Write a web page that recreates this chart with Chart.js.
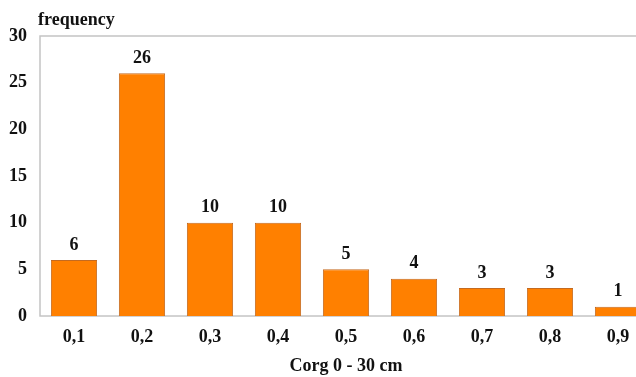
<!DOCTYPE html>
<html>
<head>
<meta charset="utf-8">
<script src="https://cdn.jsdelivr.net/npm/chart.js@4/dist/chart.umd.min.js"></script>
<style>
  html, body { margin: 0; padding: 0; background: #fff; overflow: hidden; }
  #wrap { width: 636px; height: 377px; overflow: hidden; }
</style>
</head>
<body>
<div id="wrap"><canvas id="histChart" width="652" height="377"></canvas></div>
<script>
let categories = ["0,1", "0,2", "0,3", "0,4", "0,5", "0,6", "0,7", "0,8", "0,9"];
let frequency = [6, 26, 10, 10, 5, 4, 3, 3, 1];
let yTicks = [0, 5, 10, 15, 20, 25, 30];

const fontFamily = '"Liberation Serif", "Times New Roman", serif';

// frame, "frequency" label and value labels above the bars
const extrasPlugin = {
    id: 'extras',
    beforeDatasetsDraw(chart) {
        const { ctx, chartArea } = chart;
        ctx.save();
        ctx.strokeStyle = '#c4c4c4';
        ctx.lineWidth = 1.5;
        ctx.strokeRect(chartArea.left, chartArea.top, chartArea.right - chartArea.left, chartArea.bottom - chartArea.top);
        ctx.restore();
    },
    afterDatasetsDraw(chart) {
        const { ctx, chartArea } = chart;
        ctx.save();
        ctx.fillStyle = '#111';
        ctx.font = 'bold 18px ' + fontFamily;
        ctx.textAlign = 'left';
        ctx.textBaseline = 'middle';
        ctx.fillText('frequency', chartArea.left - 2, 20);

        ctx.textAlign = 'center';
        const meta = chart.getDatasetMeta(0);
        meta.data.forEach((bar, i) => {
            ctx.fillText(String(frequency[i]), bar.x, bar.y - 15);
        });
        ctx.restore();
    }
};

document.addEventListener("DOMContentLoaded", function () {
    const ctx = document.getElementById('histChart').getContext('2d');

    new Chart(ctx, {
        type: 'bar',
        data: {
            labels: categories,
            datasets: [{
                data: frequency,
                backgroundColor: '#ff8000',
                borderColor: '#c46a20',
                borderWidth: 1,
                categoryPercentage: 1.0,
                barPercentage: 0.68
            }]
        },
        options: {
            responsive: false,
            animation: false,
            layout: { padding: { top: 36, left: 0, right: 0, bottom: 0 } },
            scales: {
                x: {
                    grid: { display: false, drawTicks: false },
                    border: { display: false },
                    ticks: {
                        color: '#111',
                        padding: 11,
                        font: { family: fontFamily, size: 18, weight: 'bold' }
                    },
                    title: {
                        display: true,
                        text: 'Corg 0 - 30 cm',
                        color: '#111',
                        padding: { top: 0, bottom: 0 },
                        font: { family: fontFamily, size: 18, weight: 'bold' }
                    },
                    afterFit: s => { s.height = 61; }
                },
                y: {
                    min: 0,
                    max: 30,
                    grid: { display: false, drawTicks: false },
                    border: { display: false },
                    afterBuildTicks: s => { s.ticks = yTicks.map(v => ({ value: v })); },
                    ticks: {
                        color: '#111',
                        padding: 13,
                        font: { family: fontFamily, size: 18, weight: 'bold' }
                    },
                    afterFit: s => { s.width = 40; }
                }
            },
            plugins: {
                legend: { display: false },
                tooltip: { enabled: false }
            }
        },
        plugins: [extrasPlugin]
    });
});
</script>
</body>
</html>
